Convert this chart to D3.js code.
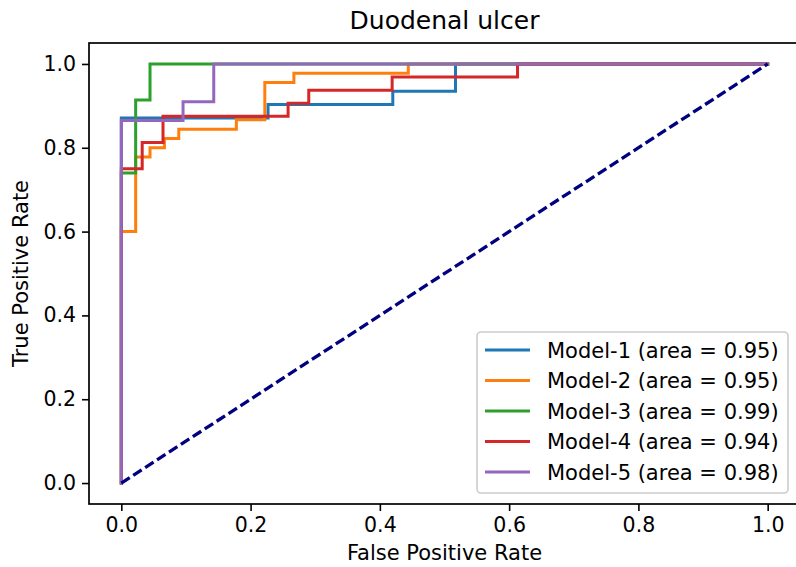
<!DOCTYPE html>
<html><head><meta charset="utf-8">
<script src="https://cdn.jsdelivr.net/npm/d3@7"></script>
<style>body{margin:0;background:#fff}text{font-family:"DejaVu Sans",sans-serif}</style>
</head><body><svg id="c" width="796" height="567"></svg>
<script>
const models = ["Model-1 (area = 0.95)","Model-2 (area = 0.95)","Model-3 (area = 0.99)","Model-4 (area = 0.94)","Model-5 (area = 0.98)"];
const colors = ["#1f77b4","#ff7f0e","#2ca02c","#d62728","#9467bd"];
const fpr1 = [0,0,0.227,0.227,0.42,0.42,0.517,0.517,1];
const tpr1 = [0,0.871,0.871,0.903,0.903,0.935,0.935,1,1];
const fpr2 = [0,0,0.0222,0.0222,0.0444,0.0444,0.0667,0.0667,0.0889,0.0889,0.178,0.178,0.222,0.222,0.267,0.267,0.444,0.444,1];
const tpr2 = [0,0.6,0.6,0.778,0.778,0.8,0.8,0.822,0.822,0.844,0.844,0.867,0.867,0.956,0.956,0.978,0.978,1,1];
const fpr3 = [0,0,0.0222,0.0222,0.0444,0.0444,1];
const tpr3 = [0,0.74,0.74,0.914,0.914,1,1];
const fpr4 = [0,0,0.0323,0.0323,0.0645,0.0645,0.258,0.258,0.29,0.29,0.419,0.419,0.613,0.613,1];
const tpr4 = [0,0.75,0.75,0.8125,0.8125,0.875,0.875,0.906,0.906,0.9375,0.9375,0.969,0.969,1,1];
const fpr5 = [0,0,0.0955,0.0955,0.143,0.143,1];
const tpr5 = [0,0.865,0.865,0.91,0.91,1,1];
const diagX = [0,1], diagY = [0,1];
const xTicks = [0,0.2,0.4,0.6,0.8,1.0];
const yTicks = [0,0.2,0.4,0.6,0.8,1.0];
const fprs = [fpr1,fpr2,fpr3,fpr4,fpr5];
const tprs = [tpr1,tpr2,tpr3,tpr4,tpr5];

const svg = d3.select("#c");
const L=89, R=800, T=43, B=504;
const x = d3.scaleLinear().domain([-0.05,1.05]).range([L,R]);
const y = d3.scaleLinear().domain([-0.05,1.05]).range([B,T]);
const fmt = d3.format(".1f");

const line = d3.line().x(d=>x(d[0])).y(d=>y(d[1]));
fprs.forEach((f,i)=>{
  const pts = f.map((v,j)=>[v,tprs[i][j]]);
  svg.append("path").attr("d",line(pts)).attr("fill","none")
    .attr("stroke",colors[i]).attr("stroke-width",3).attr("stroke-linejoin","miter").attr("stroke-linecap","square");
});
svg.append("path").attr("d",line(diagX.map((v,j)=>[v,diagY[j]]))).attr("fill","none")
  .attr("stroke","#000080").attr("stroke-width",3.3).attr("stroke-dasharray","10,4.2");

// axes
const gx = svg.append("g").attr("transform",`translate(0,${B})`)
  .call(d3.axisBottom(x).tickValues(xTicks).tickFormat(fmt).tickSize(7).tickPadding(6));
const gy = svg.append("g").attr("transform",`translate(${L},0)`)
  .call(d3.axisLeft(y).tickValues(yTicks).tickFormat(fmt).tickSize(7).tickPadding(6));
[gx,gy].forEach(g=>{
  g.select(".domain").remove();
  g.selectAll("line").attr("stroke","#000").attr("stroke-width",1.6);
  g.selectAll("text").attr("font-size",20.5).attr("fill","#000").style("font-family","DejaVu Sans");
});
// frame
svg.append("rect").attr("x",L).attr("y",T).attr("width",R-L).attr("height",B-T)
  .attr("fill","none").attr("stroke","#000").attr("stroke-width",1.7);

svg.append("text").attr("x",(L+R)/2).attr("y",29).attr("text-anchor","middle")
  .attr("font-size",25).text("Duodenal ulcer");
svg.append("text").attr("x",(L+R)/2).attr("y",560).attr("text-anchor","middle")
  .attr("font-size",21).text("False Positive Rate");
svg.append("text").attr("transform",`translate(28,${(T+B)/2}) rotate(-90)`).attr("text-anchor","middle")
  .attr("font-size",21).text("True Positive Rate");

// legend
const lg = svg.append("g");
lg.append("rect").attr("x",477).attr("y",332).attr("width",311).attr("height",161).attr("rx",4)
  .attr("fill","#fff").attr("fill-opacity",0.8).attr("stroke","#cccccc").attr("stroke-width",1.6);
models.forEach((m,i)=>{
  const cy = 350 + i*30.5;
  lg.append("line").attr("x1",485).attr("x2",530).attr("y1",cy).attr("y2",cy)
    .attr("stroke",colors[i]).attr("stroke-width",3);
  lg.append("text").attr("x",547).attr("y",cy).attr("dy","0.36em").attr("font-size",21).text(m);
});
</script></body></html>
